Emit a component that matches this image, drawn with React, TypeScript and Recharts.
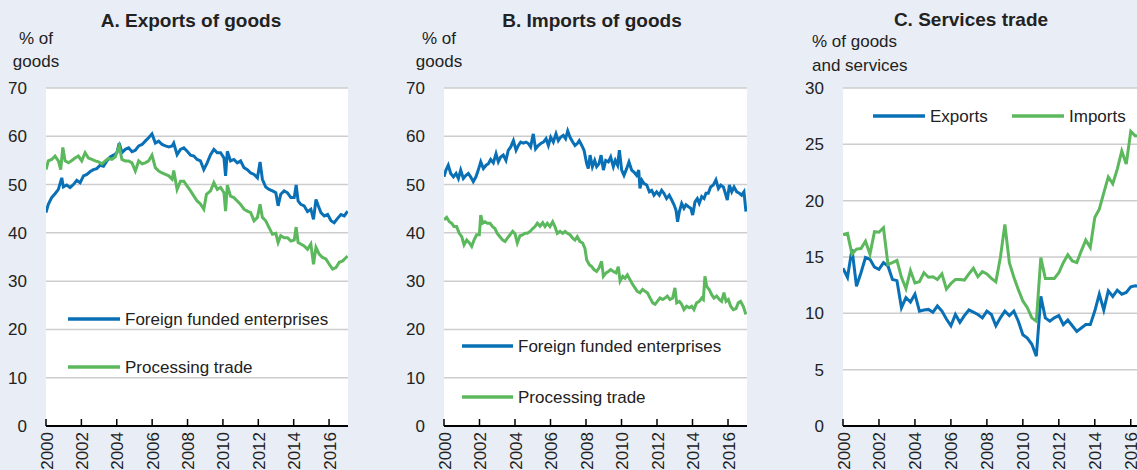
import { CartesianGrid, Legend, Line, LineChart, XAxis, YAxis } from "recharts";

const FONT = '"Liberation Sans", Arial, Helvetica, sans-serif';
const BLUE = "#0a70b6";
const GREEN = "#5cb85c";
const PAGE_BG = "#e9eef6";
const TEXT = "#222";

const YEAR_TICKS = [2000, 2002, 2004, 2006, 2008, 2010, 2012, 2014, 2016];
const X_END = 2017.07;

// Panel A: exports of goods, % of goods. Times are years since Jan 2000.
const A_FFE_T = [
  0, 0.13, 0.32, 0.51, 0.7, 0.89, 0.98, 1.17, 1.36, 1.55, 1.74, 1.93, 2.12, 2.31,
  2.5, 2.68, 2.87, 3.06, 3.25, 3.44, 3.63, 3.82, 4.01, 4.14, 4.29, 4.48, 4.67,
  4.86, 5.05, 5.24, 5.43, 5.61, 5.8, 5.99, 6.18, 6.37, 6.56, 6.75, 6.94, 7.13,
  7.22, 7.41, 7.6, 7.79, 7.98, 8.17, 8.36, 8.54, 8.73, 8.92, 9.11, 9.3, 9.49,
  9.68, 9.87, 10.06, 10.15, 10.25, 10.43, 10.62, 10.81, 11.0, 11.19, 11.38,
  11.57, 11.76, 11.95, 12.1, 12.23, 12.42, 12.61, 12.8, 12.99, 13.12, 13.27,
  13.46, 13.65, 13.84, 14.03, 14.14, 14.25, 14.4, 14.59, 14.78, 14.97, 15.12,
  15.26, 15.39, 15.54, 15.73, 15.92, 16.11, 16.29, 16.48, 16.67, 16.86, 17.05,
];
const A_FFE = [
  44.2, 45.9, 47.3, 48.1, 49.0, 51.4, 49.5, 49.9, 49.4, 50.0, 50.9, 50.4, 51.8,
  52.1, 52.7, 53.1, 53.3, 54.0, 53.8, 54.9, 55.7, 56.1, 56.6, 58.6, 56.6, 57.3,
  57.6, 56.8, 57.1, 58.0, 58.3, 59.0, 59.7, 60.5, 58.6, 59.0, 58.3, 58.0, 57.8,
  58.0, 58.6, 56.2, 57.3, 57.6, 56.9, 56.1, 55.9, 55.2, 54.9, 53.1, 54.5, 56.2,
  57.3, 56.6, 56.6, 55.5, 51.8, 56.9, 54.9, 55.2, 54.5, 54.9, 53.5, 53.1, 52.4,
  52.1, 51.4, 54.7, 51.1, 49.5, 49.0, 48.7, 48.3, 45.6, 48.0, 48.7, 48.3, 47.3,
  47.3, 49.9, 46.6, 45.9, 45.6, 44.4, 44.9, 42.8, 46.9, 45.6, 44.2, 43.5, 43.8,
  42.5, 42.1, 43.0, 43.8, 43.5, 44.5,
];
const A_PT_T = [
  0, 0.13, 0.32, 0.51, 0.7, 0.83, 0.95, 1.08, 1.27, 1.46, 1.64, 1.83, 2.02, 2.21,
  2.4, 2.59, 2.78, 2.97, 3.16, 3.35, 3.53, 3.72, 3.91, 4.14, 4.29, 4.48, 4.67,
  4.86, 5.05, 5.24, 5.43, 5.61, 5.8, 5.99, 6.18, 6.37, 6.56, 6.75, 6.94, 7.13,
  7.22, 7.41, 7.6, 7.79, 7.98, 8.17, 8.36, 8.54, 8.73, 8.92, 9.07, 9.3, 9.49,
  9.68, 9.87, 10.06, 10.15, 10.25, 10.43, 10.62, 10.81, 11.0, 11.19, 11.38,
  11.57, 11.76, 11.95, 12.1, 12.23, 12.42, 12.61, 12.8, 12.99, 13.12, 13.27,
  13.46, 13.65, 13.84, 14.03, 14.14, 14.25, 14.4, 14.59, 14.78, 14.97, 15.12,
  15.26, 15.44, 15.63, 15.82, 16.01, 16.2, 16.39, 16.58, 16.77, 16.96, 17.05,
];
const A_PT = [
  53.1, 54.9, 55.2, 55.9, 54.9, 53.1, 57.7, 54.9, 54.5, 55.0, 55.5, 55.9, 54.9,
  56.6, 55.5, 55.2, 54.9, 54.7, 54.3, 54.9, 55.4, 55.2, 55.7, 58.0, 55.2, 54.9,
  54.9, 54.5, 52.8, 54.9, 54.3, 54.5, 54.9, 56.1, 53.5, 52.8, 52.4, 52.1, 51.8,
  51.1, 52.9, 49.0, 50.7, 50.7, 49.7, 48.7, 47.6, 46.6, 46.0, 44.9, 48.0, 48.7,
  50.4, 49.0, 49.4, 48.3, 44.5, 49.9, 47.6, 47.3, 46.6, 45.9, 44.9, 44.5, 44.2,
  42.5, 43.2, 45.9, 43.2, 42.5, 41.1, 39.7, 39.9, 38.0, 39.4, 39.0, 39.0, 38.3,
  38.5, 41.2, 38.0, 37.7, 37.3, 36.6, 37.7, 33.5, 37.0, 35.6, 34.9, 34.6, 33.5,
  32.5, 32.8, 33.9, 34.2, 34.9, 35.2,
];

// Panel B: imports of goods, % of goods
const B_FFE_T = [
  0, 0.11, 0.24, 0.38, 0.53, 0.68, 0.81, 0.94, 1.09, 1.24, 1.37, 1.5, 1.65, 1.8,
  1.93, 2.07, 2.22, 2.37, 2.5, 2.63, 2.78, 2.93, 3.06, 3.19, 3.34, 3.49, 3.62,
  3.76, 3.91, 4.06, 4.19, 4.32, 4.47, 4.62, 4.75, 4.88, 5.03, 5.16, 5.31, 5.45,
  5.6, 5.75, 5.88, 6.01, 6.16, 6.31, 6.44, 6.57, 6.72, 6.85, 6.97, 7.1, 7.25,
  7.38, 7.51, 7.62, 7.76, 7.89, 8.04, 8.13, 8.23, 8.36, 8.49, 8.6, 8.73, 8.85,
  8.98, 9.11, 9.26, 9.39, 9.54, 9.65, 9.78, 9.88, 10.01, 10.14, 10.29, 10.42,
  10.57, 10.7, 10.85, 10.97, 11.04, 11.15, 11.27, 11.42, 11.57, 11.7, 11.83,
  11.98, 12.13, 12.26, 12.39, 12.54, 12.69, 12.83, 12.96, 13.07, 13.16, 13.26,
  13.39, 13.52, 13.63, 13.77, 13.9, 14.01, 14.14, 14.27, 14.38, 14.52, 14.65,
  14.76, 14.89, 15.02, 15.17, 15.32, 15.46, 15.59, 15.74, 15.85, 15.96, 16.08,
  16.21, 16.34, 16.49, 16.64, 16.77, 16.9, 17.01,
];
const B_FFE = [
  51.6, 53.0, 54.0, 52.3, 51.6, 52.3, 51.25, 53.0, 51.25, 51.9, 52.3, 51.6, 50.6,
  51.6, 53.0, 54.7, 53.3, 54.0, 54.3, 55.2, 54.5, 56.4, 54.7, 55.7, 56.1, 55.0,
  57.1, 57.8, 59.1, 57.1, 58.1, 58.8, 58.6, 58.8, 58.5, 57.8, 60.5, 57.4, 58.1,
  58.5, 58.8, 59.5, 58.1, 59.8, 58.8, 60.5, 59.1, 59.8, 60.2, 59.5, 61.1, 59.8,
  58.8, 58.1, 58.5, 59.1, 58.1, 57.1, 54.3, 53.3, 56.1, 53.7, 55.0, 53.7, 54.3,
  56.1, 53.0, 55.0, 54.7, 55.7, 53.7, 55.0, 54.0, 57.1, 53.0, 51.9, 53.3, 54.7,
  53.0, 52.6, 51.9, 53.0, 49.2, 50.9, 50.2, 49.9, 48.5, 48.8, 47.8, 48.5, 47.8,
  48.8, 48.2, 47.1, 47.8, 46.8, 45.8, 44.7, 42.3, 44.4, 46.1, 45.1, 45.8, 45.4,
  45.1, 43.7, 46.4, 47.1, 46.1, 47.5, 47.1, 48.2, 48.2, 49.5, 49.9, 51.0, 49.2,
  49.9, 49.5, 48.2, 46.8, 49.9, 48.5, 49.5, 48.5, 48.2, 47.8, 48.5, 44.4,
];
const B_PT_T = [
  0, 0.15, 0.3, 0.43, 0.56, 0.71, 0.86, 1.0, 1.13, 1.28, 1.43, 1.56, 1.69, 1.84,
  1.99, 2.07, 2.18, 2.31, 2.44, 2.59, 2.74, 2.87, 3.0, 3.15, 3.31, 3.44, 3.57,
  3.72, 3.87, 4.0, 4.13, 4.28, 4.43, 4.56, 4.69, 4.85, 5.0, 5.13, 5.26, 5.41,
  5.56, 5.69, 5.82, 5.97, 6.12, 6.25, 6.38, 6.54, 6.69, 6.82, 6.95, 7.1, 7.25,
  7.38, 7.51, 7.66, 7.81, 7.94, 8.04, 8.19, 8.32, 8.45, 8.6, 8.73, 8.88, 8.98,
  9.13, 9.26, 9.39, 9.54, 9.69, 9.82, 9.92, 10.07, 10.2, 10.33, 10.48, 10.63,
  10.76, 10.89, 11.04, 11.19, 11.32, 11.46, 11.61, 11.76, 11.89, 12.02, 12.17,
  12.32, 12.45, 12.58, 12.73, 12.88, 13.01, 13.11, 13.26, 13.39, 13.52, 13.67,
  13.82, 13.95, 14.08, 14.23, 14.38, 14.52, 14.61, 14.7, 14.8, 14.95, 15.08,
  15.21, 15.36, 15.51, 15.64, 15.77, 15.89, 16.02, 16.15, 16.3, 16.45, 16.58,
  16.71, 16.86, 17.01,
];
const B_PT = [
  42.7, 43.2, 42.3, 42.0, 41.3, 41.3, 39.9, 39.2, 37.5, 38.5, 37.9, 37.2, 38.5,
  39.6, 39.6, 43.7, 42.0, 42.3, 42.0, 42.0, 41.3, 40.9, 39.9, 39.2, 38.5, 38.2,
  38.9, 39.6, 40.3, 39.8, 37.9, 39.4, 39.6, 39.9, 39.9, 40.3, 40.9, 41.3, 42.0,
  41.4, 42.1, 41.3, 42.0, 41.3, 42.3, 41.3, 39.9, 40.3, 39.9, 40.3, 39.9, 39.6,
  38.9, 38.5, 39.2, 38.2, 37.9, 36.8, 34.4, 33.4, 33.0, 32.4, 32.0, 32.7, 34.1,
  31.0, 31.7, 32.0, 32.4, 32.0, 31.7, 33.0, 30.0, 31.0, 30.6, 31.3, 30.3, 29.3,
  28.6, 27.9, 27.6, 28.3, 27.9, 27.6, 26.5, 25.5, 25.2, 25.8, 26.5, 26.2, 26.5,
  26.9, 26.2, 26.5, 28.6, 25.5, 25.8, 25.2, 24.1, 24.8, 24.5, 24.8, 24.1, 25.5,
  25.8, 26.5, 26.2, 31.0, 28.9, 28.2, 27.2, 26.5, 26.9, 26.2, 25.8, 27.6, 25.8,
  26.2, 24.8, 24.1, 24.3, 25.5, 25.8, 24.8, 23.1,
];

// Panel C: services trade, % of goods and services, quarterly from 2000Q1
const C_EXPORTS = [
  14.0, 13.2, 15.7, 12.4, 13.6, 14.95, 14.8, 14.1, 13.9, 14.5, 14.2, 13.0, 12.9,
  10.5, 11.4, 11.0, 11.7, 10.2, 10.3, 10.35, 10.1, 10.65, 10.2, 9.5, 8.9, 9.9,
  9.2, 9.8, 10.3, 10.1, 9.9, 9.6, 10.2, 9.9, 8.9, 9.6, 10.2, 9.8, 10.2, 9.3, 8.1,
  7.8, 7.25, 6.2, 11.5, 9.6, 9.3, 9.6, 9.8, 9.0, 9.4, 8.9, 8.4, 8.7, 9.0, 9.0,
  10.2, 11.7, 10.3, 12.0, 11.5, 12.05, 11.7, 11.85, 12.35, 12.45, 12.4,
];
const C_IMPORTS = [
  17.0, 17.1, 15.25, 15.7, 15.75, 16.4, 15.25, 17.25, 17.2, 17.6, 14.35, 14.5,
  14.7, 13.2, 12.2, 13.8, 12.7, 12.8, 13.6, 13.2, 13.25, 13.0, 13.5, 12.15,
  12.65, 13.0, 13.0, 12.95, 13.5, 14.0, 13.25, 13.7, 13.5, 13.1, 12.8, 14.95,
  17.9, 14.5, 13.2, 12.1, 11.1, 10.5, 9.6, 9.3, 14.95, 13.1, 13.1, 13.1, 13.6,
  14.5, 15.2, 14.65, 14.5, 15.55, 16.5, 15.85, 18.5, 19.25, 20.7, 22.1, 21.5,
  22.8, 24.4, 23.25, 26.15, 25.75, 25.8,
];

type Point = { year: number; value: number };

function monthly(t: number[], v: number[]): Point[] {
  return t.map((d, i) => ({ year: 2000 + d, value: v[i] }));
}

function quarterly(v: number[]): Point[] {
  return v.map((value, i) => ({ year: 2000 + i * 0.25, value }));
}

type Series = { name: string; color: string; data: Point[] };
type LegendItem = { x1: number; x2: number; y: number };

function YearTick(props: any) {
  const { x, y, payload } = props;
  return (
    <g>
      <line x1={x} x2={x} y1={y} y2={y - 7} stroke="#000" strokeWidth={1.5} />
      <text
        transform={`translate(${x + 6.5},${y + 6}) rotate(-90)`}
        textAnchor="end"
        fontSize={17}
        fill={TEXT}
        fontFamily={FONT}
      >
        {payload.value}
      </text>
    </g>
  );
}

type PanelProps = {
  left: number;
  width: number;
  yMax: number;
  yTicks: number[];
  series: Series[];
  legend: LegendItem[];
};

function Panel({ left, width, yMax, yTicks, series, legend }: PanelProps) {
  const renderLegend = () => (
    <svg width={width} height={470} style={{ overflow: "visible" }}>
      {series.map((s, i) => (
        <g key={s.name}>
          <line
            x1={legend[i].x1}
            x2={legend[i].x2}
            y1={legend[i].y}
            y2={legend[i].y}
            stroke={s.color}
            strokeWidth={3.5}
          />
          <text
            x={legend[i].x2 + 5}
            y={legend[i].y + 6}
            fontSize={17}
            fill={TEXT}
            fontFamily={FONT}
          >
            {s.name}
          </text>
        </g>
      ))}
    </svg>
  );

  return (
    <div style={{ position: "absolute", left, top: 0 }}>
      <LineChart
        width={width}
        height={470}
        margin={{ top: 88, right: 12, bottom: 0, left: 0 }}
      >
        <CartesianGrid vertical={false} stroke="#cdcdcd" strokeWidth={1.5} fill="#fff" />
        <XAxis
          type="number"
          dataKey="year"
          domain={[2000, X_END]}
          ticks={YEAR_TICKS}
          allowDataOverflow
          height={44}
          tickSize={0}
          tickMargin={0}
          tickLine={false}
          axisLine={{ stroke: "#000", strokeWidth: 2 }}
          tick={<YearTick />}
          interval={0}
        />
        <YAxis
          type="number"
          domain={[0, yMax]}
          ticks={yTicks}
          width={46}
          axisLine={false}
          tickLine={false}
          tickSize={0}
          tickMargin={19}
          interval={0}
          tick={{ fontSize: 17, fill: TEXT, fontFamily: FONT }}
        />
        <Legend
          layout="vertical"
          align="center"
          verticalAlign="middle"
          content={renderLegend}
          wrapperStyle={{ left: 0, top: 0, width, height: 470 }}
        />
        {series.map((s) => (
          <Line
            key={s.name}
            data={s.data}
            dataKey="value"
            name={s.name}
            type="linear"
            stroke={s.color}
            strokeWidth={3}
            dot={false}
            activeDot={false}
            isAnimationActive={false}
          />
        ))}
      </LineChart>
    </div>
  );
}

const GOODS_TICKS = [0, 10, 20, 30, 40, 50, 60, 70];
const SERVICES_TICKS = [0, 5, 10, 15, 20, 25, 30];

export default function App() {
  const labelStyle = { fontFamily: FONT, fontSize: 17, fill: TEXT };
  const titleStyle = { fontFamily: FONT, fontSize: 19, fontWeight: 700, fill: TEXT };
  return (
    <div
      style={{
        position: "absolute",
        left: 0,
        top: 0,
        width: 1137,
        height: 470,
        overflow: "hidden",
        background: PAGE_BG,
      }}
    >
      <Panel
        left={0}
        width={360}
        yMax={70}
        yTicks={GOODS_TICKS}
        series={[
          { name: "Foreign funded enterprises", color: BLUE, data: monthly(A_FFE_T, A_FFE) },
          { name: "Processing trade", color: GREEN, data: monthly(A_PT_T, A_PT) },
        ]}
        legend={[
          { x1: 68, x2: 120, y: 319 },
          { x1: 68, x2: 120, y: 367 },
        ]}
      />
      <Panel
        left={398}
        width={361}
        yMax={70}
        yTicks={GOODS_TICKS}
        series={[
          { name: "Foreign funded enterprises", color: BLUE, data: monthly(B_FFE_T, B_FFE) },
          { name: "Processing trade", color: GREEN, data: monthly(B_PT_T, B_PT) },
        ]}
        legend={[
          { x1: 64, x2: 115, y: 346 },
          { x1: 64, x2: 115, y: 397 },
        ]}
      />
      <Panel
        left={797}
        width={365}
        yMax={30}
        yTicks={SERVICES_TICKS}
        series={[
          { name: "Exports", color: BLUE, data: quarterly(C_EXPORTS) },
          { name: "Imports", color: GREEN, data: quarterly(C_IMPORTS) },
        ]}
        legend={[
          { x1: 76, x2: 128, y: 116 },
          { x1: 215, x2: 267, y: 116 },
        ]}
      />
      <svg
        width={1137}
        height={470}
        style={{ position: "absolute", left: 0, top: 0, pointerEvents: "none" }}
      >
        <text x={191} y={27} textAnchor="middle" {...titleStyle}>A. Exports of goods</text>
        <text x={592} y={27} textAnchor="middle" {...titleStyle}>B. Imports of goods</text>
        <text x={971} y={26} textAnchor="middle" {...titleStyle}>C. Services trade</text>
        <text x={36} y={44} textAnchor="middle" {...labelStyle}>% of</text>
        <text x={36} y={67} textAnchor="middle" {...labelStyle}>goods</text>
        <text x={439} y={44} textAnchor="middle" {...labelStyle}>% of</text>
        <text x={439} y={67} textAnchor="middle" {...labelStyle}>goods</text>
        <text x={812} y={47} {...labelStyle}>% of goods</text>
        <text x={812} y={71} {...labelStyle}>and services</text>
      </svg>
    </div>
  );
}
